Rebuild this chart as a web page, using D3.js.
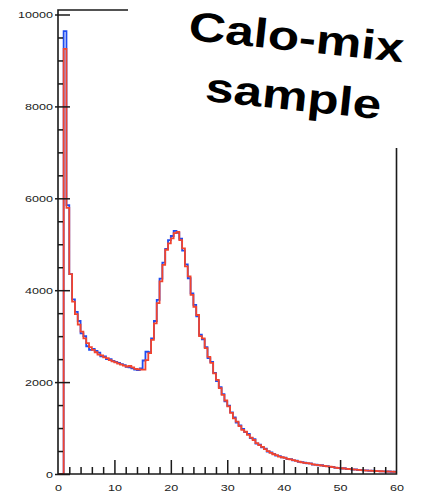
<!DOCTYPE html>
<html>
<head>
<meta charset="utf-8">
<script src="https://cdn.jsdelivr.net/npm/d3@7"></script>
<style>
html,body{margin:0;padding:0;background:#fff;}
svg{display:block;font-family:"Liberation Sans",Arial,sans-serif;}
</style>
</head>
<body>
<svg id="chart" width="427" height="497"></svg>
<script>
// Bin lower edges: 0 .. 59.5 step 0.5 (120 bins)
const binWidth = 0.5;
const redValues = [
 0,0,9250,5790,4350,3750,3480,3250,3100,2950,
 2850,2760,2700,2650,2600,2580,2540,2520,2480,2450,
 2430,2400,2380,2360,2340,2350,2320,2290,2280,2270,
 2270,2480,2630,2920,3280,3720,4190,4550,4880,5020,
 5130,5240,5270,5090,4910,4520,4300,3900,3640,3460,
 3000,2950,2740,2550,2420,2190,2050,1870,1720,1600,
 1470,1330,1210,1140,1040,960,920,850,790,740,
 670,630,590,540,500,460,430,410,380,365,
 350,330,320,300,285,270,255,240,235,225,
 210,200,195,185,175,165,160,150,140,130,
 125,120,110,105,100,95,90,85,80,75,
 72,70,65,62,60,56,54,52,50,48
];
const blueValues = [
 0,0,9640,5850,4350,3800,3530,3330,3060,3000,
 2780,2700,2720,2680,2640,2560,2560,2500,2500,2460,
 2440,2420,2390,2370,2330,2320,2300,2270,2260,2300,
 2470,2660,2650,2950,3330,3790,4250,4600,4900,5090,
 5180,5290,5250,5120,4860,4560,4260,3930,3680,3430,
 3030,2930,2760,2520,2440,2200,2020,1890,1740,1580,
 1490,1340,1230,1120,1060,980,910,870,780,760,
 660,640,580,550,490,470,440,400,390,360,
 355,325,325,295,290,265,260,245,230,230,
 205,205,190,190,170,170,155,155,135,135,
 120,125,105,110,95,100,85,90,78,78,
 70,72,62,64,58,58,52,54,48,50
];
const yMajorTicks = [0,2000,4000,6000,8000,10000];
const yMinorTicks = d3.range(0,10001,500).filter(v => v % 2000 !== 0);
const xMajorTicks = [0,10,20,30,40,50,60];
const xMinorTicks = d3.range(2,60,2).filter(v => v % 10 !== 0);
const titleLines = ["Calo-mix","sample"];

const svg = d3.select("#chart");
const x = d3.scaleLinear().domain([0,60]).range([58,396.5]);
const y = d3.scaleLinear().domain([0,10000]).range([474,14.5]);

function stepPoints(vals){
  const pts = vals.map((v,i)=>[i*binWidth, v]);
  pts.push([vals.length*binWidth, vals[vals.length-1]]);
  return pts;
}
const line = d3.line().x(d=>x(d[0])).y(d=>y(d[1])).curve(d3.curveStepAfter);

svg.append("path").attr("d", line(stepPoints(blueValues)))
  .attr("fill","none").attr("stroke","#1f4cf0").attr("stroke-width",1.8);
svg.append("path").attr("d", line(stepPoints(redValues)))
  .attr("fill","none").attr("stroke","#f2442e").attr("stroke-width",1.8);

const axisColor = "#1a1a1a";

// Y axis ticks
const yMaj = svg.append("g").attr("transform",`translate(${x(0)},0)`)
  .call(d3.axisRight(y).tickValues(yMajorTicks).tickSize(12).tickFormat(""));
const yMin = svg.append("g").attr("transform",`translate(${x(0)},0)`)
  .call(d3.axisRight(y).tickValues(yMinorTicks).tickSize(5).tickFormat(""));
const yLab = svg.append("g").attr("transform",`translate(${x(0)},0)`)
  .call(d3.axisLeft(y).tickValues(yMajorTicks).tickSize(3).tickFormat(d3.format("d")));
yLab.selectAll("text").attr("x",0).attr("dy","0.34em")
  .attr("transform","translate(-5,0) scale(1.4,1)");

// X axis ticks
const xMaj = svg.append("g").attr("transform",`translate(0,${y(0)})`)
  .call(d3.axisTop(x).tickValues(xMajorTicks.filter(v=>v>0&&v<60)).tickSize(14).tickFormat(""));
const xMin = svg.append("g").attr("transform",`translate(0,${y(0)})`)
  .call(d3.axisTop(x).tickValues(xMinorTicks).tickSize(7).tickFormat(""));
const xLab = svg.append("g").attr("transform",`translate(0,${y(0)})`)
  .call(d3.axisBottom(x).tickValues(xMajorTicks).tickSize(0).tickFormat(d3.format("d")));
xLab.selectAll("text").attr("y",0).attr("dy",0)
  .attr("transform","translate(0,16.5) scale(1.4,1)");

[yMaj,yMin,yLab,xMaj,xMin,xLab].forEach(g=>{
  g.select(".domain").remove();
  g.selectAll("line").attr("stroke",axisColor).attr("stroke-width",1.5);
  g.selectAll("text").attr("fill","#222").attr("font-size",9)
    .attr("font-family","'Liberation Sans',Arial,sans-serif");
});

// Frame lines
const frame = svg.append("g").attr("stroke",axisColor).attr("stroke-width",1.6).attr("fill","none");
frame.append("path").attr("d",`M${x(0)},${y(0)}V10H128`);
frame.append("path").attr("d",`M${x(0)},${y(0)}H${x(60)}V148`);

// Title
const tpos = [[295,51],[292,110]];
titleLines.forEach((t,i)=>{
  svg.append("text").text(t)
    .attr("transform",`translate(${tpos[i][0]},${tpos[i][1]}) rotate(6) scale(1.25,1)`)
    .attr("text-anchor","middle")
    .attr("font-family","'Liberation Sans',Arial,sans-serif")
    .attr("font-weight","bold").attr("font-size",41).attr("fill","#000");
});
</script>
</body>
</html>
